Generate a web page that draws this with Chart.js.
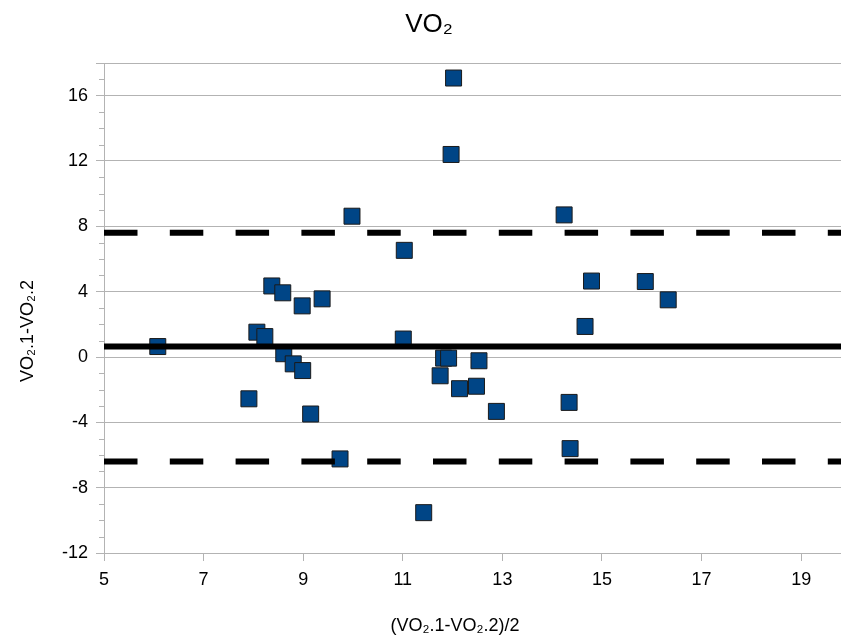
<!DOCTYPE html>
<html>
<head>
<meta charset="utf-8">
<title>VO₂</title>
<script src="https://cdn.jsdelivr.net/npm/chart.js@4.4.1/dist/chart.umd.min.js"></script>
<style>
  html, body { margin: 0; padding: 0; background: #fff; }
  #wrap { width: 841px; height: 640px; }
</style>
</head>
<body>
<div id="wrap"><canvas id="blandAltman" width="841" height="640"></canvas></div>
<script>
// среднее двух измерений VO2 (ось X)
const meanValues = [
  6.08, 7.91, 8.07, 8.23, 8.37, 8.59, 8.61, 8.80, 8.98, 8.99, 9.15,
  9.38, 9.74, 9.98, 11.03, 11.01, 11.42, 11.75, 11.82, 11.92, 12.02,
  11.97, 12.14, 12.48, 12.53, 12.88, 14.24, 14.34, 14.36, 14.66, 14.79,
  15.87, 16.33
];
// разность измерений VO2.1 - VO2.2 (ось Y)
const diffValues = [
  0.64, -2.56, 1.52, 1.25, 4.35, 3.93, 0.20, -0.42, 3.13, -0.83, -3.49,
  3.56, -6.24, 8.62, 6.53, 1.10, -9.53, -1.15, -0.07, -0.07, 17.08,
  12.40, -1.94, -1.79, -0.23, -3.33, 8.70, -2.78, -5.61, 1.87, 4.65,
  4.62, 3.50
];

// средняя разность и границы согласия
const meanDiff = 0.65;
const upperLimit = 7.6;
const lowerLimit = -6.4;

const xRange = [5, 19.8];
const yRange = [-12, 18];
const xTicks = [5, 7, 9, 11, 13, 15, 17, 19];
const yTicks = [-12, -8, -4, 0, 4, 8, 12, 16];

const chartTitle = "VO\u2082";
const xTitle = "(VO\u2082.1-VO\u2082.2)/2";
const yTitle = "VO\u2082.1-VO\u2082.2";

const FONT = '"Liberation Sans", Arial, sans-serif';
const GRID = "#b3b3b3";

// горизонтальная линия через всю ось X
const hLine = (v) => [{ x: xRange[0], y: v }, { x: xRange[1], y: v }];

// мелкие засечки на оси Y через единицу
const minorTicks = {
  id: "minorTicks",
  afterDraw(chart) {
    const y = chart.scales.y;
    const ctx = chart.ctx;
    ctx.save();
    ctx.strokeStyle = GRID;
    ctx.lineWidth = 1;
    ctx.beginPath();
    for (let v = Math.ceil(y.min); v < y.max; v++) {
      if (v % 4 === 0) continue;
      const py = Math.round(y.getPixelForValue(v)) + 0.5;
      ctx.moveTo(y.right - 5, py);
      ctx.lineTo(y.right, py);
    }
    ctx.stroke();
    ctx.restore();
  }
};

// заголовок и подписи осей
const chartTexts = {
  id: "chartTexts",
  afterDraw(chart) {
    const { ctx, chartArea } = chart;
    ctx.save();
    ctx.fillStyle = "#000";
    ctx.textAlign = "center";
    ctx.textBaseline = "middle";
    ctx.font = "26px " + FONT;
    ctx.fillText(chartTitle, 429, 25);
    ctx.font = "18px " + FONT;
    ctx.fillText(xTitle, chartArea.left + 351, 626);
    ctx.translate(28, chartArea.top + 268);
    ctx.rotate(-Math.PI / 2);
    ctx.fillText(yTitle, 0, 0);
    ctx.restore();
  }
};

const ctx = document.getElementById("blandAltman").getContext("2d");

new Chart(ctx, {
  type: "scatter",
  data: {
    datasets: [
      {
        label: "mean",
        data: hLine(meanDiff),
        showLine: true,
        borderColor: "#000",
        borderWidth: 6,
        pointRadius: 0,
        order: 1
      },
      {
        label: "upper",
        data: hLine(upperLimit),
        showLine: true,
        borderColor: "#000",
        borderWidth: 6,
        borderDash: [33.5, 32.3],
        borderCapStyle: "butt",
        pointRadius: 0,
        order: 1
      },
      {
        label: "lower",
        data: hLine(lowerLimit),
        showLine: true,
        borderColor: "#000",
        borderWidth: 6,
        borderDash: [33.5, 32.3],
        borderCapStyle: "butt",
        pointRadius: 0,
        order: 1
      },
      {
        label: "VO2",
        data: meanValues.map((x, i) => ({ x: x, y: diffValues[i] })),
        pointStyle: "rect",
        pointRadius: 11.3,
        pointHoverRadius: 11.3,
        backgroundColor: "#004586",
        borderColor: "#1a1a1a",
        borderWidth: 1,
        order: 2
      }
    ]
  },
  options: {
    responsive: false,
    animation: false,
    layout: { autoPadding: false, padding: { top: 63, right: 0, bottom: 0, left: 0 } },
    plugins: {
      legend: { display: false },
      tooltip: { enabled: false },
      title: { display: false }
    },
    scales: {
      x: {
        type: "linear",
        min: xRange[0],
        max: xRange[1],
        afterFit: (scale) => {
          scale.height = 87;
          scale.paddingLeft = 0;
          scale.paddingRight = 0;
        },
        afterBuildTicks: (scale) => { scale.ticks = xTicks.map((v) => ({ value: v })); },
        ticks: {
          autoSkip: false,
          color: "#000",
          padding: 8,
          font: { family: FONT, size: 18 }
        },
        grid: {
          drawOnChartArea: false,
          drawTicks: true,
          tickLength: 8,
          tickColor: GRID
        },
        border: { display: true, color: GRID }
      },
      y: {
        type: "linear",
        min: yRange[0],
        max: yRange[1],
        afterFit: (scale) => {
          scale.width = 104;
          scale.paddingTop = 0;
          scale.paddingBottom = 0;
        },
        afterBuildTicks: (scale) => {
          scale.ticks = yTicks.concat([yRange[1]]).map((v) => ({ value: v }));
        },
        ticks: {
          autoSkip: false,
          color: "#000",
          padding: 8,
          font: { family: FONT, size: 18 },
          callback: (v) => (yTicks.includes(v) ? String(v) : "")
        },
        grid: {
          color: GRID,
          tickColor: GRID,
          tickLength: 8
        },
        border: { display: true, color: GRID }
      }
    }
  },
  plugins: [minorTicks, chartTexts]
});
</script>
</body>
</html>
